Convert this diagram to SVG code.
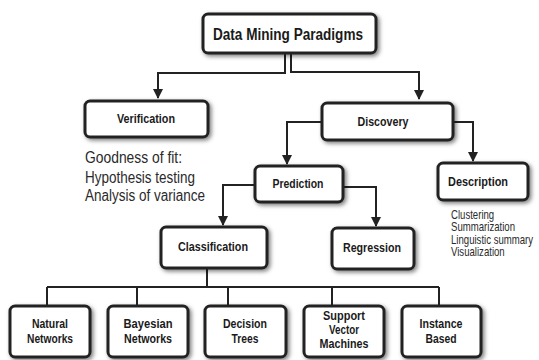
<svg xmlns="http://www.w3.org/2000/svg" width="539" height="360" viewBox="0 0 539 360">
<defs>
<filter id="sh" x="-20%" y="-30%" width="140%" height="170%">
<feDropShadow dx="2" dy="2" stdDeviation="2" flood-color="#000" flood-opacity="0.5"/>
</filter>
<marker id="ah" markerUnits="userSpaceOnUse" markerWidth="10" markerHeight="12" refX="9" refY="5" orient="auto">
<path d="M0,0 L10,5 L0,10 Z" fill="#222"/>
</marker>
<style>
.box{fill:#fff;stroke:#222;stroke-width:3;filter:url(#sh)}
.lbl{font-family:"Liberation Sans",Arial,sans-serif;font-size:13px;font-weight:bold;fill:#1a1a1a;text-anchor:middle}
.side{font-family:"Liberation Sans",Arial,sans-serif;fill:#2a2a2a}
.con{fill:none;stroke:#222;stroke-width:2}
</style>
</defs>
<rect width="539" height="360" fill="#fff"/>

<g id="connectors">
<path class="con" d="M285,53 V73 H158 V98" marker-end="url(#ah)"/>
<path class="con" d="M291,53 V72 H419 V99" marker-end="url(#ah)"/>
<path class="con" d="M322,122 H287 V164" marker-end="url(#ah)"/>
<path class="con" d="M453,122 H473 V161" marker-end="url(#ah)"/>
<path class="con" d="M255,185 H223 V225" marker-end="url(#ah)"/>
<path class="con" d="M343,187 H376 V226" marker-end="url(#ah)"/>
<path class="con" d="M207,268 V287 M47,287 H439 M47,287 V306 M137,287 V306 M228,287 V306 M332,287 V306 M439,287 V306"/>
</g>

<g id="n-root">
<rect class="box" x="203" y="14" width="173" height="39" rx="5"/>
<text class="lbl" x="288" y="40" textLength="150" lengthAdjust="spacingAndGlyphs" style="font-size:16px">Data Mining Paradigms</text>
</g>

<g id="n-verification">
<rect class="box" x="85" y="101" width="123" height="36" rx="5"/>
<text class="lbl" x="146" y="123" textLength="58" lengthAdjust="spacingAndGlyphs">Verification</text>
</g>

<g id="n-verification-notes">
<text class="side" x="85" y="163" font-size="16" textLength="97" lengthAdjust="spacingAndGlyphs">Goodness of fit:</text>
<text class="side" x="85" y="183" font-size="16" textLength="110" lengthAdjust="spacingAndGlyphs">Hypothesis testing</text>
<text class="side" x="85" y="201" font-size="16" textLength="120" lengthAdjust="spacingAndGlyphs">Analysis of variance</text>
</g>

<g id="n-discovery">
<rect class="box" x="322" y="103" width="131" height="37" rx="5"/>
<text class="lbl" x="383" y="126" textLength="51" lengthAdjust="spacingAndGlyphs">Discovery</text>
</g>

<g id="n-prediction">
<rect class="box" x="255" y="166" width="88" height="36" rx="5"/>
<text class="lbl" x="298" y="188" textLength="51" lengthAdjust="spacingAndGlyphs">Prediction</text>
</g>

<g id="n-description">
<rect class="box" x="438" y="163" width="90" height="37" rx="5"/>
<text class="lbl" x="478" y="186" textLength="60" lengthAdjust="spacingAndGlyphs">Description</text>
</g>

<g id="n-description-notes" transform="translate(451,0) scale(0.8,1)">
<text class="side" x="0" y="219" font-size="12">Clustering</text>
<text class="side" x="0" y="231.5" font-size="12">Summarization</text>
<text class="side" x="0" y="244" font-size="12">Linguistic summary</text>
<text class="side" x="0" y="256.5" font-size="12">Visualization</text>
</g>

<g id="n-classification">
<rect class="box" x="161" y="227" width="106" height="41" rx="5"/>
<text class="lbl" x="213" y="251" textLength="70" lengthAdjust="spacingAndGlyphs">Classification</text>
</g>

<g id="n-regression">
<rect class="box" x="332" y="228" width="82" height="41" rx="5"/>
<text class="lbl" x="372" y="252" textLength="58" lengthAdjust="spacingAndGlyphs">Regression</text>
</g>

<g id="n-natural">
<rect class="box" x="10" y="306" width="80" height="51" rx="5"/>
<text class="lbl" x="50" y="328" textLength="36" lengthAdjust="spacingAndGlyphs">Natural</text>
<text class="lbl" x="50" y="343" textLength="46" lengthAdjust="spacingAndGlyphs">Networks</text>
</g>

<g id="n-bayesian">
<rect class="box" x="108" y="306" width="80" height="51" rx="5"/>
<text class="lbl" x="148" y="328" textLength="49" lengthAdjust="spacingAndGlyphs">Bayesian</text>
<text class="lbl" x="148" y="343" textLength="48" lengthAdjust="spacingAndGlyphs">Networks</text>
</g>

<g id="n-decision">
<rect class="box" x="205" y="306" width="81" height="51" rx="5"/>
<text class="lbl" x="245" y="328" textLength="44" lengthAdjust="spacingAndGlyphs">Decision</text>
<text class="lbl" x="245" y="343" textLength="27" lengthAdjust="spacingAndGlyphs">Trees</text>
</g>

<g id="n-svm">
<rect class="box" x="304" y="306" width="80" height="51" rx="5"/>
<text class="lbl" x="344" y="320" textLength="42" lengthAdjust="spacingAndGlyphs">Support</text>
<text class="lbl" x="344" y="334" textLength="30" lengthAdjust="spacingAndGlyphs">Vector</text>
<text class="lbl" x="344" y="348" textLength="49" lengthAdjust="spacingAndGlyphs">Machines</text>
</g>

<g id="n-instance">
<rect class="box" x="402" y="306" width="79" height="51" rx="5"/>
<text class="lbl" x="441" y="328" textLength="43" lengthAdjust="spacingAndGlyphs">Instance</text>
<text class="lbl" x="441" y="343" textLength="31" lengthAdjust="spacingAndGlyphs">Based</text>
</g>
</svg>
